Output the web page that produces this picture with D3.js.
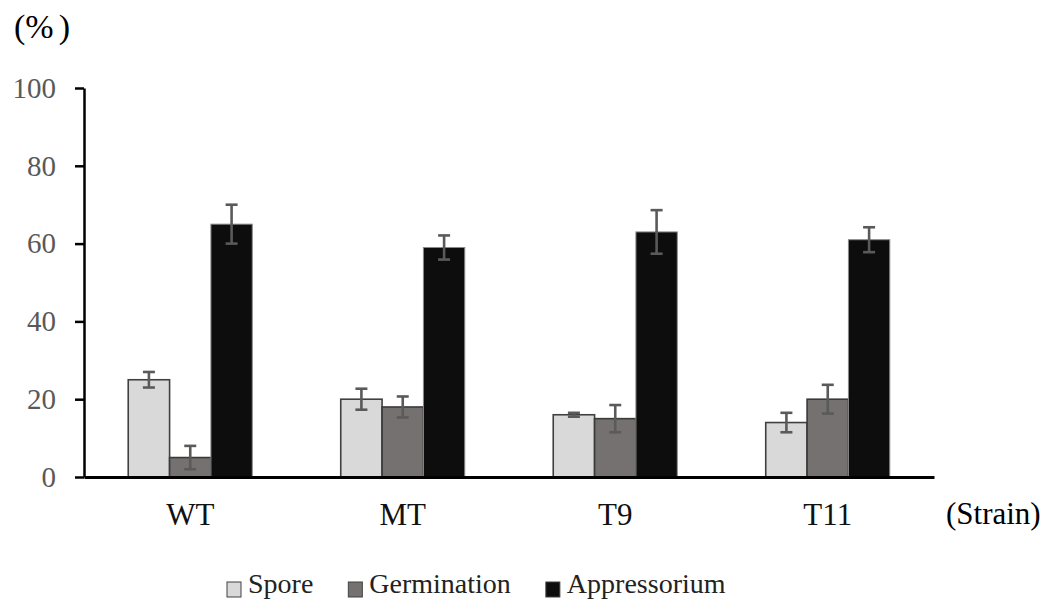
<!DOCTYPE html>
<html>
<head>
<meta charset="utf-8">
<script src="https://cdn.jsdelivr.net/npm/d3@7"></script>
<style>
  body { margin: 0; background: #fff; }
  svg text { font-family: "Liberation Serif", "DejaVu Serif", serif; }
</style>
</head>
<body>
<div class="chart"></div>
<script>
// 資料
const categories = ['WT', 'MT', 'T9', 'T11'];
const seriesNames = ['Spore', 'Germination', 'Appressorium'];
const spore = [25, 20, 16, 14];
const sporeErr = [2, 2.7, 0.5, 2.5];
const germination = [5, 18, 15, 20];
const germinationErr = [3, 2.7, 3.5, 3.7];
const appressorium = [65, 59, 63, 61];
const appressoriumErr = [5, 3.1, 5.6, 3.2];
const yTicks = [0, 20, 40, 60, 80, 100];

const serif = 'Liberation Serif';
const fills = { Spore: '#d9d9d9', Germination: '#767171', Appressorium: '#0d0d0d' };
const strokes = { Spore: '#404040', Germination: '#3a3a3a', Appressorium: '#8a8a8a' };

// 組合成繪圖用的資料
const valuesBySeries = { Spore: spore, Germination: germination, Appressorium: appressorium };
const errBySeries = { Spore: sporeErr, Germination: germinationErr, Appressorium: appressoriumErr };
const barData = [];
categories.forEach((c, i) => {
    seriesNames.forEach(s => {
        barData.push({ cat: c, series: s, value: valuesBySeries[s][i], err: errBySeries[s][i] });
    });
});

const width = 1049, height = 600;
const svg = d3.select('.chart').append('svg').attr('width', width).attr('height', height)
    .attr('font-family', serif);

const x = d3.scaleBand().domain(categories).range([84, 934]).paddingInner(0).paddingOuter(0);
const xSub = d3.scaleBand().domain(seriesNames).range([0, x.bandwidth()]).paddingOuter(1.07);
const y = d3.scaleLinear().domain([0, 100]).range([477, 88]);

// bars
svg.append('g').selectAll('rect')
    .data(barData)
    .enter()
    .append('rect')
    .attr('x', d => x(d.cat) + xSub(d.series))
    .attr('y', d => y(d.value))
    .attr('width', xSub.bandwidth())
    .attr('height', d => y(0) - y(d.value))
    .style('fill', d => fills[d.series])
    .style('stroke', d => strokes[d.series])
    .style('stroke-width', d => d.series === 'Appressorium' ? 1 : 1.6);

// error bars
const errG = svg.append('g').selectAll('g')
    .data(barData)
    .enter()
    .append('g')
    .attr('transform', d => `translate(${x(d.cat) + xSub(d.series) + xSub.bandwidth() / 2},0)`)
    .style('stroke', '#5a5a5a')
    .style('stroke-width', 2.6);
errG.append('line')
    .attr('x1', 0).attr('x2', 0)
    .attr('y1', d => y(d.value + d.err)).attr('y2', d => y(d.value - d.err));
errG.append('line')
    .attr('x1', -6).attr('x2', 6)
    .attr('y1', d => y(d.value + d.err)).attr('y2', d => y(d.value + d.err));
errG.append('line')
    .attr('x1', -6).attr('x2', 6)
    .attr('y1', d => y(d.value - d.err)).attr('y2', d => y(d.value - d.err));

// y axis
const yAxis = d3.axisLeft(y).tickValues(yTicks).tickSize(9).tickSizeOuter(0).tickPadding(19);
const yAxisDraw = svg.append('g').attr('class', 'y axis')
    .attr('transform', 'translate(84,0)')
    .call(yAxis)
    .attr('font-family', serif)
    .attr('font-size', 29);
yAxisDraw.select('.domain').style('stroke', '#000').style('stroke-width', 2.5);
yAxisDraw.selectAll('.tick line').style('stroke', '#000').style('stroke-width', 2.5);
yAxisDraw.selectAll('text')
    .attr('font-family', serif)
    .style('fill', '#595959');

// x axis
const xAxis = d3.axisBottom(x).tickSize(0).tickSizeOuter(0).tickPadding(26);
const xAxisDraw = svg.append('g').attr('class', 'x axis')
    .attr('transform', `translate(0,${y(0)})`)
    .call(xAxis)
    .attr('font-family', serif)
    .attr('font-size', 31);
xAxisDraw.select('.domain').style('stroke', '#000').style('stroke-width', 3);
xAxisDraw.selectAll('text')
    .attr('font-family', serif)
    .style('fill', '#111');

// axis titles
const pct = svg.append('text').attr('x', 14).attr('y', 38)
    .attr('font-family', serif)
    .style('font-size', '34px').style('fill', '#000');
pct.append('tspan').text('(%');
pct.append('tspan').attr('dx', 5).text(')');

svg.append('text').attr('x', 946).attr('y', 524)
    .attr('font-family', serif)
    .style('font-size', '31px').style('fill', '#000')
    .text('(Strain)');

// legend
const legend = svg.append('g').attr('class', 'legend');
let lx = 227;
seriesNames.forEach(s => {
    legend.append('rect')
        .attr('x', lx).attr('y', 582).attr('width', 14).attr('height', 15)
        .style('fill', fills[s]).style('stroke', '#404040').style('stroke-width', 1);
    const t = legend.append('text')
        .attr('x', lx + 21).attr('y', 593)
        .attr('font-family', serif)
        .style('font-size', '28px').style('fill', '#222')
        .text(s);
    lx += 21 + t.node().getComputedTextLength() + 35;
});
</script>
</body>
</html>
